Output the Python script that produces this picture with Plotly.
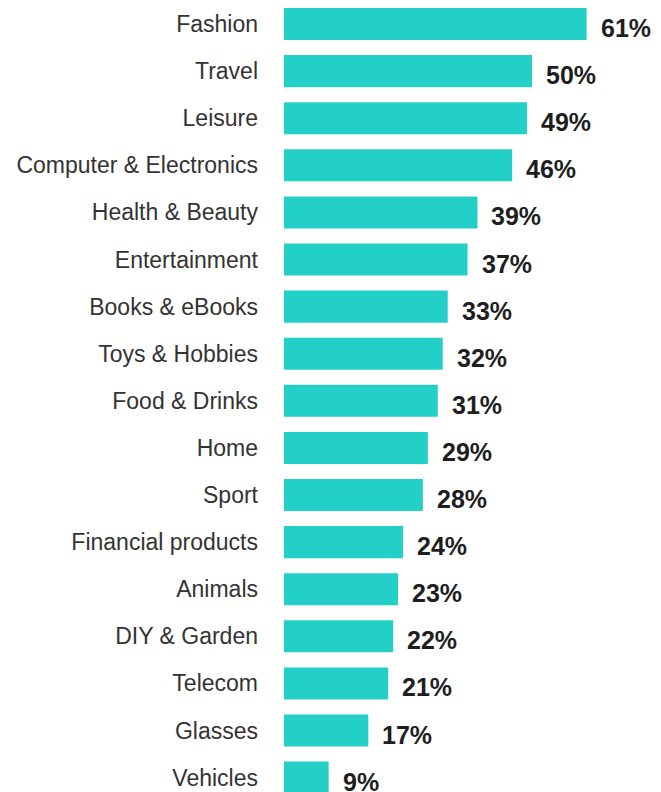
import plotly.graph_objects as go

categories = [
    "Fashion", "Travel", "Leisure", "Computer & Electronics", "Health & Beauty",
    "Entertainment", "Books & eBooks", "Toys & Hobbies", "Food & Drinks", "Home",
    "Sport", "Financial products", "Animals", "DIY & Garden", "Telecom",
    "Glasses", "Vehicles",
]
values = [61, 50, 49, 46, 39, 37, 33, 32, 31, 29, 28, 24, 23, 22, 21, 17, 9]
value_labels = [f"{v}%" for v in values]

BAR_COLOR = "#22D0C8"
FONT = "Arial, Liberation Sans, sans-serif"

fig = go.Figure(
    go.Bar(
        x=values,
        y=categories,
        orientation="h",
        marker=dict(color=BAR_COLOR, line=dict(width=0)),
        hoverinfo="skip",
    )
)

for cat, v, lab in zip(categories, values, value_labels):
    fig.add_annotation(
        x=v, y=cat, text=f"<b>{lab}</b>", showarrow=False,
        xanchor="left", yanchor="middle", xshift=12, yshift=-4,
        font=dict(family=FONT, size=25, color="#1e1e1e"),
    )

fig.update_layout(
    width=661, height=792,
    margin=dict(l=284, r=0, t=0, b=0),
    paper_bgcolor="white", plot_bgcolor="white",
    bargap=0.32,
    showlegend=False,
    font=dict(family=FONT),
)
fig.update_xaxes(range=[0, 76], visible=False, fixedrange=True)
fig.update_yaxes(
    type="category",
    categoryorder="array", categoryarray=categories,
    range=[16.305, -0.51],
    showgrid=False, zeroline=False, showline=False,
    ticks="", ticklabelstandoff=25,
    tickfont=dict(family=FONT, size=23, color="#333333"),
    fixedrange=True,
)

fig.write_html("out.html")
